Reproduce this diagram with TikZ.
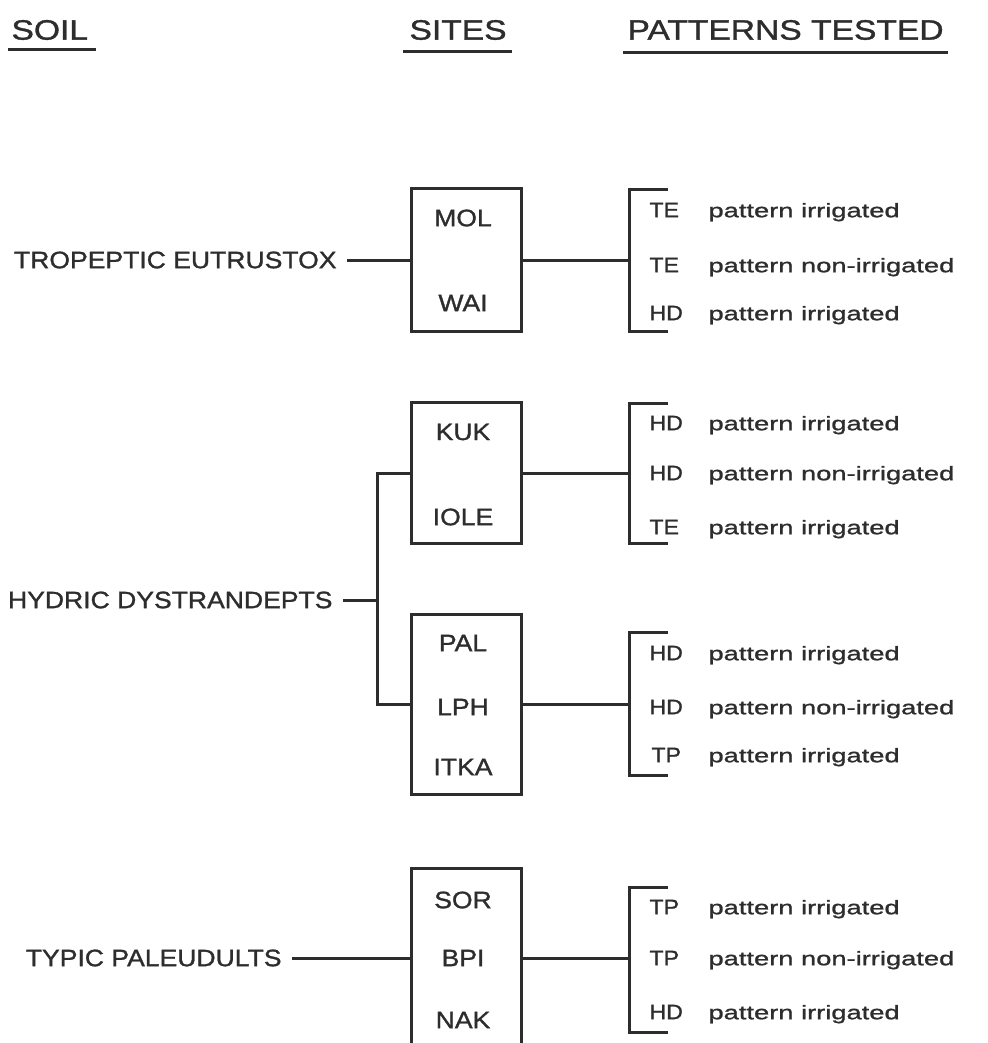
\documentclass[tikz,border=0pt]{standalone}
\usepackage{fontspec}
\setmainfont{Liberation Sans}
\newfontfamily\headfont[FakeStretch=1.2, FakeBold=1.2]{Liberation Sans}
\newfontfamily\soilfont[FakeStretch=1.12, FakeBold=1.2]{Liberation Sans}
\newfontfamily\codefont[FakeStretch=1.1, FakeBold=1.2]{Liberation Sans}
\newfontfamily\patfont[FakeStretch=1.4, FakeBold=1.2]{Liberation Sans}
\usepackage{tikz}
\definecolor{ink}{RGB}{45,45,45}

\begin{document}
\begin{tikzpicture}[x=1pt, y=-1pt, line width=3pt, draw=ink, text=ink,
    heading/.style={font=\headfont\fontsize{28}{30}\selectfont, inner sep=0pt, anchor=west},
    underline/.style={line width=3.5pt},
    soil/.style={font=\soilfont\fontsize{23.7}{26}\selectfont, inner sep=0pt, inner xsep=9pt, anchor=east},
    site/.style={font=\soilfont\fontsize{23.7}{26}\selectfont, inner sep=0pt},
    sitebox/.style={draw, minimum width=110, inner sep=0pt},
    code/.style={font=\codefont\fontsize{21}{23}\selectfont, inner sep=0pt, anchor=west},
    phrase/.style={font=\patfont\fontsize{19.5}{21}\selectfont, inner sep=0pt, anchor=base west}]
        \useasboundingbox[fill=white] (0,0) rectangle (987,1043);
        % column headings
        \node[heading] (hsoil) at (10,30) {SOIL};
        \node[heading] (hsites) at (408,30) {SITES};
        \node[heading] (hpat) at (626,30) {PATTERNS TESTED};
        \draw[underline] ([xshift=-2pt,yshift=-8pt]hsoil.south west) -- ([xshift=6pt,yshift=-8pt]hsoil.south east);
        \draw[underline] ([xshift=-5pt,yshift=-10pt]hsites.south west) -- ([xshift=4pt,yshift=-10pt]hsites.south east);
        \draw[underline] ([xshift=-3pt,yshift=-11pt]hpat.south west) -- ([xshift=3pt,yshift=-11pt]hpat.south east);

        \coordinate (brk) at (629,0);
        \coordinate (px) at (707,0);

        % tropeptic eutrustox
        \node[soil] (tro) at (347,260) {TROPEPTIC EUTRUSTOX};
        \node[sitebox, minimum height=143] (b1) at (466,260) {};
        \node[site] (mol) at (463,218) {MOL};
        \node[site] (wai) at (463,303) {WAI};
        \draw (tro.east) -- (b1.west);
        \draw (b1.east) -- (b1.east -| brk);
        \draw (668,189) -- (629,189) -- (629,331) -- (668,331);
        \node[code] (c11) at (648,210) {TE};
        \node[code] (c12) at (648,265) {TE};
        \node[code] (c13) at (648,313) {HD};
        \node[phrase] at (c11.base -| px) {pattern irrigated};
        \node[phrase] at (c12.base -| px) {pattern non-irrigated};
        \node[phrase] at (c13.base -| px) {pattern irrigated};

        % hydric dystrandepts
        \node[soil] (hyd) at (343,600) {HYDRIC DYSTRANDEPTS};
        \coordinate (jn) at (377,600);
        \node[sitebox, minimum height=141] (b2) at (466,473) {};
        \node[site] (kuk) at (463,432) {KUK};
        \node[site] (iole) at (463,517) {IOLE};
        \node[sitebox, minimum height=180] (b3) at (466,704) {};
        \node[site] (pal) at (463,643) {PAL};
        \node[site] (lph) at (463,707) {LPH};
        \node[site] (itka) at (463,767) {ITKA};
        \draw (hyd.east) -- (jn);
        \draw (b2.west) -| (jn) |- (b3.west);
        \draw (b2.east) -- (b2.east -| brk);
        \draw (b3.east) -- (b3.east -| brk);
        \draw (668,403) -- (629,403) -- (629,543) -- (668,543);
        \draw (668,632) -- (629,632) -- (629,775) -- (668,775);
        \node[code] (c21) at (648,423) {HD};
        \node[code] (c22) at (648,473) {HD};
        \node[code] (c23) at (648,527) {TE};
        \node[phrase] at (c21.base -| px) {pattern irrigated};
        \node[phrase] at (c22.base -| px) {pattern non-irrigated};
        \node[phrase] at (c23.base -| px) {pattern irrigated};
        \node[code] (c31) at (648,653) {HD};
        \node[code] (c32) at (648,707) {HD};
        \node[code] (c33) at (650,755) {TP};
        \node[phrase] at (c31.base -| px) {pattern irrigated};
        \node[phrase] at (c32.base -| px) {pattern non-irrigated};
        \node[phrase] at (c33.base -| px) {pattern irrigated};

        % typic paleudults
        \node[soil] (typ) at (292,958) {TYPIC PALEUDULTS};
        \node[sitebox, minimum height=180] (b4) at (466,958) {};
        \node[site] (sor) at (463,900) {SOR};
        \node[site] (bpi) at (463,958) {BPI};
        \node[site] (nak) at (463,1020) {NAK};
        \draw (typ.east) -- (b4.west);
        \draw (b4.east) -- (b4.east -| brk);
        \draw (668,887) -- (629,887) -- (629,1032) -- (668,1032);
        \node[code] (c41) at (648,907) {TP};
        \node[code] (c42) at (648,958) {TP};
        \node[code] (c43) at (648,1012) {HD};
        \node[phrase] at (c41.base -| px) {pattern irrigated};
        \node[phrase] at (c42.base -| px) {pattern non-irrigated};
        \node[phrase] at (c43.base -| px) {pattern irrigated};
      \end{tikzpicture}
\end{document}
